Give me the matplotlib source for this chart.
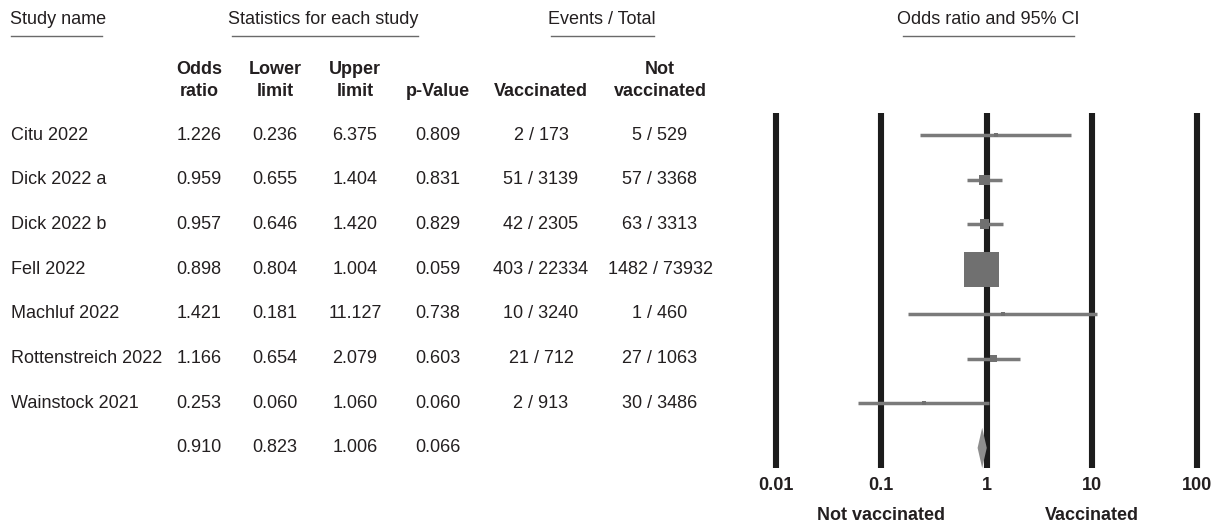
import numpy as np
import matplotlib
matplotlib.use("Agg")
import matplotlib.pyplot as plt
from matplotlib import transforms

plt.rcParams['font.family'] = ['Liberation Sans', 'DejaVu Sans']

# study data
studies = ['Citu 2022', 'Dick 2022 a', 'Dick 2022 b', 'Fell 2022',
           'Machluf 2022', 'Rottenstreich 2022', 'Wainstock 2021']
odds = [1.226, 0.959, 0.957, 0.898, 1.421, 1.166, 0.253]
lower = [0.236, 0.655, 0.646, 0.804, 0.181, 0.654, 0.060]
upper = [6.375, 1.404, 1.420, 1.004, 11.127, 2.079, 1.060]
pvals = [0.809, 0.831, 0.829, 0.059, 0.738, 0.603, 0.060]
vacc = ['2 / 173', '51 / 3139', '42 / 2305', '403 / 22334',
        '10 / 3240', '21 / 712', '2 / 913']
not_vacc = ['5 / 529', '57 / 3368', '63 / 3313', '1482 / 73932',
            '1 / 460', '27 / 1063', '30 / 3486']

# pooled estimate
pooled = (0.910, 0.823, 1.006, 0.066)

ticks = [0.01, 0.1, 1, 10, 100]
tick_labels = ['0.01', '0.1', '1', '10', '100']

W, H = 1220, 526
ROW0, ROWH = 135, 44.7   # pixel centre of first row, row pitch
TXT = '#231f20'
FS = 13


def py(p):
    # pixel y -> row units
    return (p - ROW0) / ROWH


fig = plt.figure(figsize=(W / 100, H / 100), dpi=100)
ax = fig.add_axes([776 / W, 0, (1197 - 776) / W, 1])
ax.set_xscale('log')
ax.set_xlim(0.01, 100)
ax.set_ylim(py(H), py(0))
ax.axis('off')

tr = transforms.blended_transform_factory(fig.transFigure, ax.transData)


def txt(xpix, row, s, **kw):
    kw.setdefault('ha', 'center')
    kw.setdefault('va', 'center')
    kw.setdefault('fontsize', FS)
    kw.setdefault('color', TXT)
    ax.text(xpix / W, row, s, transform=tr, **kw)


def head(xpix, s, x0, x1):
    txt(xpix, py(20), s)
    ax.plot([x0 / W, x1 / W], [py(36), py(36)], transform=tr, color='#6a6a6a',
            lw=1.0, clip_on=False)


# group headers
txt(10, py(20), 'Study name', ha='left')
ax.plot([11 / W, 102 / W], [py(36), py(36)], transform=tr, color='#6a6a6a',
        lw=1.0, clip_on=False)
head(323, 'Statistics for each study', 232, 418)
head(602, 'Events / Total', 551, 654)
head(988, 'Odds ratio and 95% CI', 903, 1074)

# column headers
cols = [199, 275, 355, 438, 541, 660]
top = ['Odds', 'Lower', 'Upper', '', '', 'Not']
bot = ['ratio', 'limit', 'limit', 'p-Value', 'Vaccinated', 'vaccinated']
for x, a, b in zip(cols, top, bot):
    if a:
        txt(x, py(69), a, fontweight='bold')
    txt(x, py(91), b, fontweight='bold')

# table rows
rows = np.arange(len(studies))
for i in rows:
    txt(11, i, studies[i], ha='left')
    txt(cols[0], i, f'{odds[i]:.3f}')
    txt(cols[1], i, f'{lower[i]:.3f}')
    txt(cols[2], i, f'{upper[i]:.3f}')
    txt(cols[3], i, f'{pvals[i]:.3f}')
    txt(cols[4], i, vacc[i])
    txt(cols[5], i, not_vacc[i])

srow = len(studies)
for x, v in zip(cols[:4], pooled):
    txt(x, srow, f'{v:.3f}')

# reference lines at each decade
ax.vlines(ticks, py(113), py(468), color='#1c1c1c', lw=4.4, clip_on=False,
          zorder=1)
for t, lab in zip(ticks, tick_labels):
    ax.text(t, py(485), lab, ha='center', va='center', fontsize=FS,
            fontweight='bold', color=TXT, clip_on=False)
ax.text(0.1, py(516), 'Not vaccinated', ha='center', va='center',
        fontsize=FS, fontweight='bold', color=TXT)
ax.text(10, py(516), 'Vaccinated', ha='center', va='center',
        fontsize=FS, fontweight='bold', color=TXT)

# confidence intervals
ax.hlines(rows, lower, upper, color='#7a7a7a', lw=2.5, zorder=2,
          clip_on=False)

# square area proportional to inverse-variance weight
se = (np.log(upper) - np.log(lower)) / (2 * 1.96)
w = 1 / se ** 2
side_px = 35 * np.sqrt(w / w.max())
side_px = np.maximum(side_px, 4)
ax.scatter(odds, rows, marker='s', s=(side_px * 0.72) ** 2,
           color='#707070', edgecolors='none', zorder=3, clip_on=False)

# pooled diamond
est, lo, hi, _ = pooled
ax.fill([lo, est, hi, est], [srow, srow - 0.45, srow, srow + 0.45],
        color='#8e8e8e', zorder=3, lw=0)

fig.savefig('out.png', dpi=100, facecolor='white')
